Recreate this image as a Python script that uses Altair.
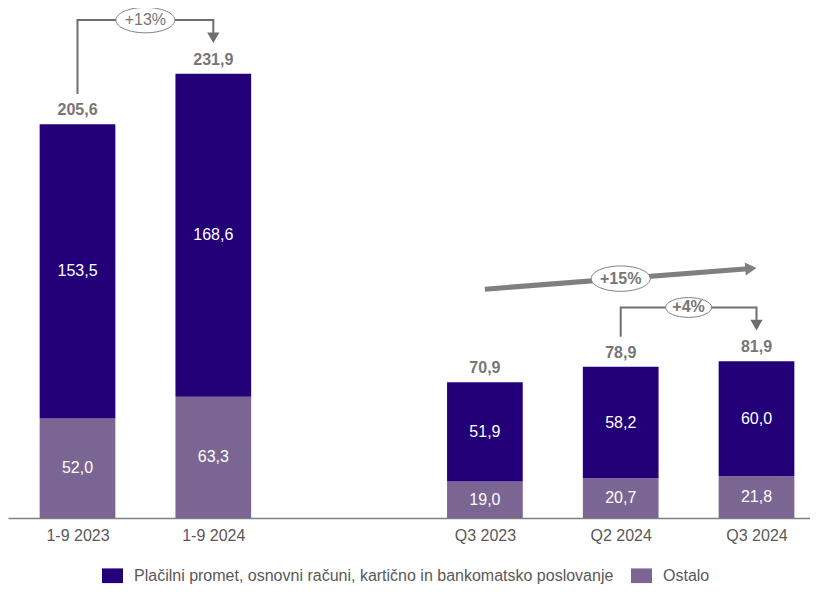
import math
import altair as alt
import pandas as pd

# ---------------- data ----------------
categories = ["1-9 2023", "1-9 2024", "Q3 2023", "Q2 2024", "Q3 2024"]
positions = [0, 1, 3, 4, 5]          # slot 2 is an empty gap
series_names = ["Plačilni promet, osnovni računi, kartično in bankomatsko poslovanje", "Ostalo"]
series_colors = ["#230078", "#7B6693"]
placilni = [153.5, 168.6, 51.9, 58.2, 60.0]
ostalo = [52.0, 63.3, 19.0, 20.7, 21.8]
totals = [205.6, 231.9, 70.9, 78.9, 81.9]

bracket_labels = ["+13%", "+4%"]
bracket_from = [0, 3]
bracket_to = [1, 4]
bracket_bold = [False, True]
trend_label = "+15%"
trend_from = 2
trend_to = 4

FONT = "Liberation Sans"
GRAY = "#767676"

# ---------------- scales ----------------
W, H = 802, 510
Y_MAX = 266.2
PXU = H / Y_MAX                         # pixels per value unit
X0 = -0.5118
X1 = X0 + W / 135.8
PXX = W / (X1 - X0)                     # pixels per slot


def fmt(v):
    return f"{v:.1f}".replace(".", ",")


xscale = alt.Scale(domain=[X0, X1], nice=False, zero=False, padding=0)
yscale = alt.Scale(domain=[0, Y_MAX], nice=False, zero=True, padding=0)

label_list = [""] * 6
for c, p in zip(categories, positions):
    label_list[p] = c
label_expr = "[" + ",".join("'" + s + "'" for s in label_list) + "][datum.value]"

xaxis = alt.Axis(values=positions, labelExpr=label_expr, title=None, ticks=False,
                 grid=False, domainColor="#808080", domainWidth=1.5,
                 labelFont=FONT, labelFontSize=16, labelColor="#595959",
                 labelPadding=9)

# ---------------- bar table ----------------
rows = []
for c, p, a, b in zip(categories, positions, placilni, ostalo):
    rows.append(dict(cat=c, pos=p, series=series_names[1], value=b, ord=0,
                     mid=b / 2, label=fmt(b)))
    rows.append(dict(cat=c, pos=p, series=series_names[0], value=a, ord=1,
                     mid=b + a / 2, label=fmt(a)))
bars_df = pd.DataFrame(rows)
tot_df = pd.DataFrame(dict(pos=positions, total=totals, label=[fmt(t) for t in totals]))

legend = alt.Legend(orient="none", legendX=94, legendY=557, direction="horizontal",
                    title=None, padding=0, symbolType="M-1,-0.7H1V0.7H-1Z",
                    symbolSize=441, symbolStrokeWidth=0, labelFont=FONT,
                    labelFontSize=16, labelColor="#595959", labelOffset=11,
                    columnPadding=17, labelLimit=0)

bars = alt.Chart(bars_df).mark_bar(size=75.7, orient="vertical").encode(
    x=alt.X("pos:Q", scale=xscale, axis=xaxis),
    y=alt.Y("value:Q", stack="zero", scale=yscale, axis=None),
    color=alt.Color("series:N", scale=alt.Scale(domain=series_names, range=series_colors),
                    legend=legend),
    order=alt.Order("ord:Q"),
)

seg_text = alt.Chart(bars_df).mark_text(font=FONT, fontSize=16, color="white",
                                        baseline="middle").encode(
    x=alt.X("pos:Q", scale=xscale), y=alt.Y("mid:Q", scale=yscale), text="label:N")

tot_text = alt.Chart(tot_df).mark_text(font=FONT, fontSize=16, fontWeight="bold",
                                       color=GRAY, baseline="middle", dy=-14).encode(
    x=alt.X("pos:Q", scale=xscale), y=alt.Y("total:Q", scale=yscale), text="label:N")

# ---------------- annotations ----------------
HEAD = 150
head_h = math.sqrt(3) / 2 * math.sqrt(HEAD) / 2     # half height of triangle
line_rows, head_rows, ell_rows = [], [], []
for g, (lab, f, t, bold) in enumerate(zip(bracket_labels, bracket_from, bracket_to, bracket_bold)):
    pf, pt = positions[f], positions[t]
    top = max(totals[f], totals[t]) + 53.6 / PXU
    start = totals[f] + 30 / PXU
    tip = totals[t] + 30.7 / PXU
    head_c = tip + head_h / PXU
    for o, (xx, yy) in enumerate([(pf, start), (pf, top), (pt, top), (pt, head_c)]):
        line_rows.append(dict(g=g, o=o, x=xx, y=yy))
    head_rows.append(dict(x=pt, y=head_c))
    ell_rows.append(dict(x=(pf + pt) / 2, y=top, label=lab, size=59 ** 2 if len(lab) > 3 else 46 ** 2,
                         weight="bold" if bold else "normal"))

# trend arrow
tf, tt = positions[trend_from], positions[trend_to]
ty0 = totals[trend_from] + 93 / PXU
ty1 = totals[trend_to] + 93 / PXU
dxp = (tt - tf) * PXX
dyp = (ty1 - ty0) * PXU
ang = math.degrees(math.atan2(dyp, dxp))
LEN = math.hypot(dxp, dyp)
THEAD = 170
th_half = math.sqrt(3) / 2 * math.sqrt(THEAD) / 2
frac = 1 - th_half / LEN
hx = tf + (tt - tf) * frac
hy = ty0 + (ty1 - ty0) * frac
trend_df = pd.DataFrame(dict(o=[0, 1], x=[tf, hx], y=[ty0, hy]))
trend_head = pd.DataFrame(dict(x=[hx], y=[hy], angle=[360 - ang]))
ell_rows.append(dict(x=(tf + tt) / 2, y=(ty0 + ty1) / 2, label=trend_label, size=59 ** 2,
                     weight="bold"))

line_df = pd.DataFrame(line_rows)
head_df = pd.DataFrame(head_rows)
ell_df = pd.DataFrame(ell_rows)

bracket_lines = alt.Chart(line_df).mark_line(color="#6E6E6E", strokeWidth=2, strokeCap="butt",
                                             strokeJoin="miter").encode(
    x=alt.X("x:Q", scale=xscale), y=alt.Y("y:Q", scale=yscale),
    detail="g:N", order="o:Q")

heads = alt.Chart(head_df).mark_point(filled=True, size=HEAD, color="#6E6E6E", opacity=1,
                                      shape="triangle-down").encode(
    x=alt.X("x:Q", scale=xscale), y=alt.Y("y:Q", scale=yscale))

trend_line = alt.Chart(trend_df).mark_line(color="#7F7F7F", strokeWidth=5, strokeCap="butt").encode(
    x=alt.X("x:Q", scale=xscale), y=alt.Y("y:Q", scale=yscale), order="o:Q")

trend_arrow = alt.Chart(trend_head).mark_point(filled=True, size=THEAD, color="#7F7F7F", opacity=1,
                                               shape="triangle-right").encode(
    x=alt.X("x:Q", scale=xscale), y=alt.Y("y:Q", scale=yscale),
    angle=alt.Angle("angle:Q", scale=None))

ellipses = alt.Chart(ell_df).mark_point(
    shape="M-1,0A1,0.43,0,1,0,1,0A1,0.43,0,1,0,-1,0Z", filled=False,
    fill="white", fillOpacity=1, stroke="#7F7F7F", strokeWidth=1, opacity=1).encode(
    x=alt.X("x:Q", scale=xscale), y=alt.Y("y:Q", scale=yscale),
    size=alt.Size("size:Q", scale=None))

ell_text_bold = alt.Chart(ell_df).transform_filter("datum.weight == 'bold'").mark_text(
    font=FONT, fontSize=16, fontWeight="bold", color=GRAY, baseline="middle").encode(
    x=alt.X("x:Q", scale=xscale), y=alt.Y("y:Q", scale=yscale), text="label:N")
ell_text_norm = alt.Chart(ell_df).transform_filter("datum.weight == 'normal'").mark_text(
    font=FONT, fontSize=16, color=GRAY, baseline="middle").encode(
    x=alt.X("x:Q", scale=xscale), y=alt.Y("y:Q", scale=yscale), text="label:N")

chart = alt.layer(
    bars, seg_text, tot_text, bracket_lines, heads, trend_line, trend_arrow,
    ellipses, ell_text_bold, ell_text_norm
).properties(
    width=W, height=H,
    autosize=alt.AutoSizeParams(type="none"),
    padding={"left": 0, "top": 0, "right": 0, "bottom": 68},
).configure(background="white").configure_view(stroke=None)

chart.save("out.html", embed_options={"renderer": "svg", "actions": False})
